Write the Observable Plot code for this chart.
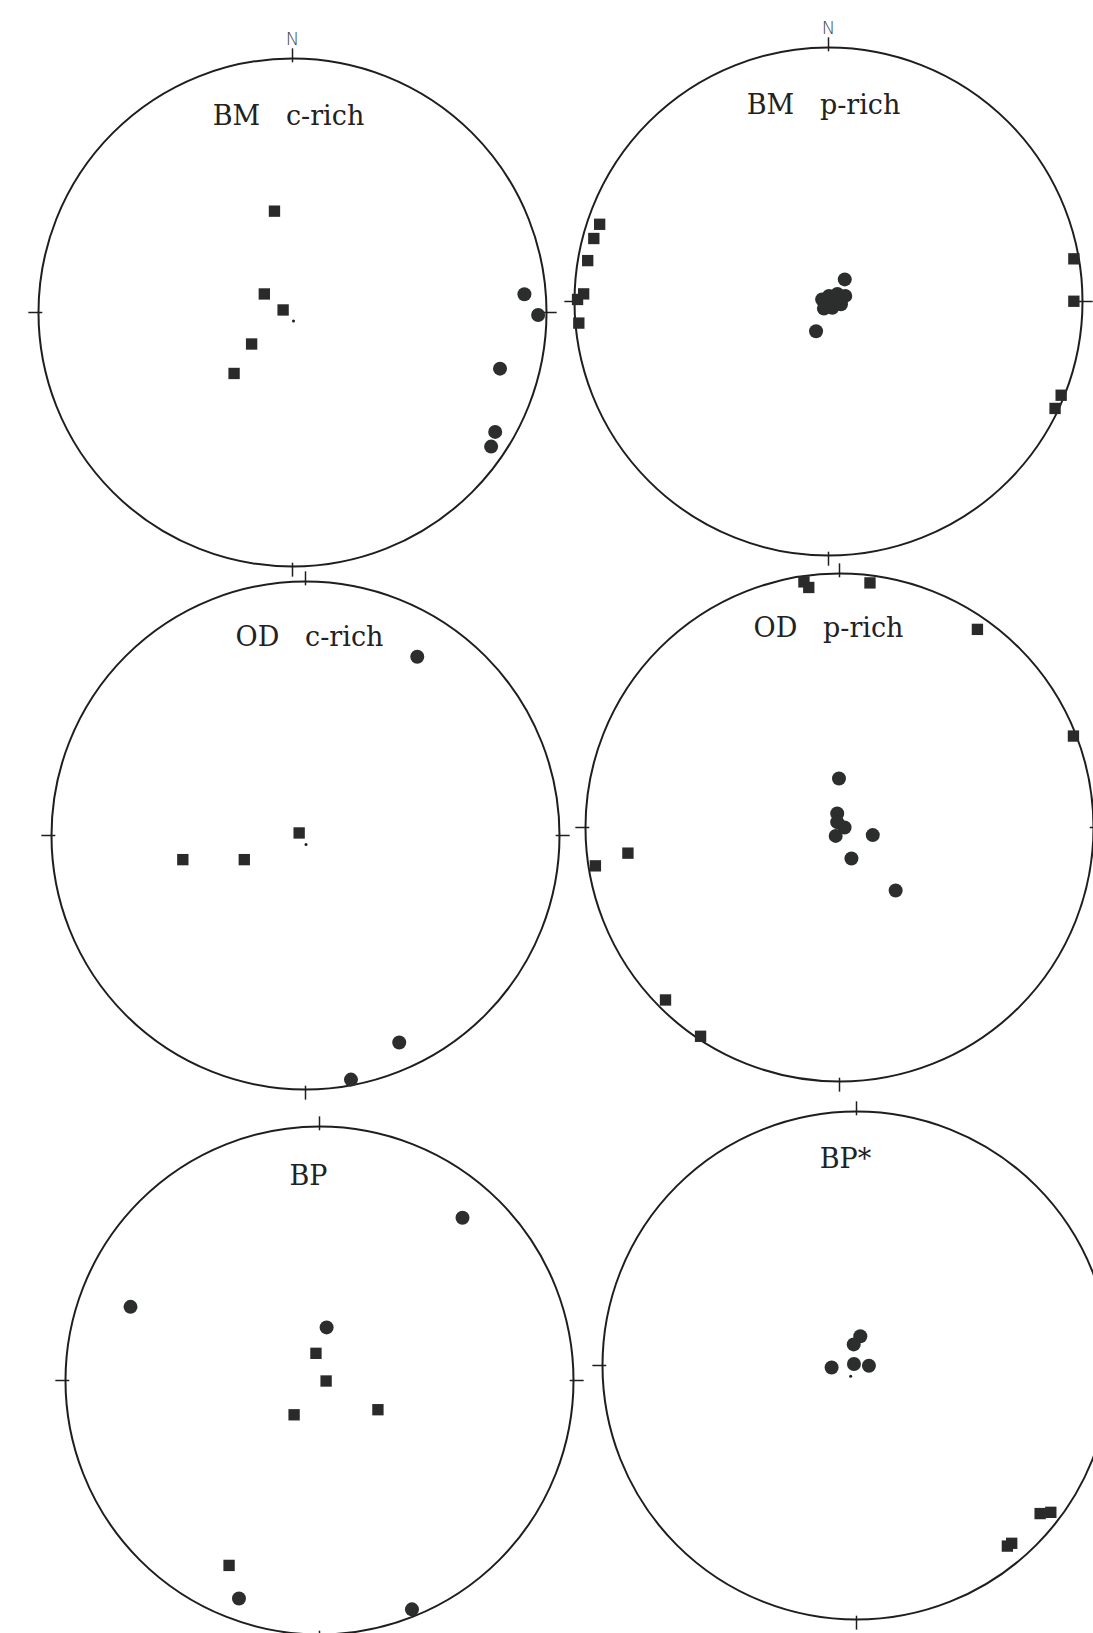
<!DOCTYPE html>
<html><head><meta charset="utf-8">
<script src="https://cdn.jsdelivr.net/npm/d3@7"></script>
<script src="https://cdn.jsdelivr.net/npm/@observablehq/plot@0.6"></script>
<style>
html,body{margin:0;padding:0;background:#fff;}
#page{position:relative;width:1093px;height:1633px;overflow:hidden;background:#fff;}
.panel{position:absolute;}
.panel svg{max-width:none !important;}
</style></head><body><div id="page"></div>
<script>
// Stereonet projected positions (unit circle coordinates)
const panelTitles = ["BM\u00a0\u00a0\u00a0c-rich", "BM\u00a0\u00a0\u00a0p-rich", "OD\u00a0\u00a0\u00a0c-rich", "OD\u00a0\u00a0\u00a0p-rich", "BP", "BP*"];

const bmCrichSquares = [[-0.071,0.399],[-0.111,0.073],[-0.037,0.010],[-0.161,-0.124],[-0.230,-0.240]];
const bmCrichCircles = [[0.913,0.072],[0.967,-0.010],[0.817,-0.221],[0.798,-0.470],[0.782,-0.528]];
const bmCrichCenter = [[0.004,-0.033]];

const bmPrichSquares = [[-0.901,0.304],[-0.924,0.248],[-0.948,0.161],[-0.988,0.008],[-0.964,0.030],[-0.983,-0.085],[0.966,0.168],[0.966,0.001],[0.916,-0.369],[0.892,-0.421]];
const bmPrichCircles = [[0.064,0.087],[0.066,0.022],[-0.025,0.008],[0.002,0.022],[0.029,0.015],[-0.018,-0.028],[0.015,-0.025],[0.049,-0.011],[0.035,0.030],[-0.049,-0.117]];
const bmPrichCenter = [];

const odCrichSquares = [[-0.025,0.010],[-0.241,-0.095],[-0.483,-0.095]];
const odCrichCircles = [[0.440,0.704],[0.369,-0.815],[0.179,-0.961]];
const odCrichCenter = [[0.002,-0.035]];

const odPrichSquares = [[-0.140,0.967],[-0.121,0.945],[0.120,0.963],[0.543,0.780],[0.921,0.360],[-0.833,-0.101],[-0.961,-0.151],[-0.685,-0.679],[-0.547,-0.822]];
const odPrichCircles = [[-0.002,0.193],[-0.009,0.055],[-0.009,0.021],[0.020,0.000],[-0.015,-0.033],[0.131,-0.030],[0.047,-0.122],[0.221,-0.248]];
const odPrichCenter = [];

const bpSquares = [[-0.014,0.107],[0.026,-0.002],[-0.100,-0.135],[0.230,-0.115],[-0.356,-0.728]];
const bpCircles = [[0.563,0.641],[-0.744,0.290],[0.028,0.209],[-0.317,-0.858],[0.364,-0.901]];
const bpCenter = [];

const bpStarSquares = [[0.723,-0.583],[0.765,-0.578],[0.611,-0.700],[0.594,-0.711]];
const bpStarCircles = [[0.015,0.115],[-0.011,0.083],[-0.098,-0.008],[-0.010,0.006],[0.049,-0.001]];
const bpStarCenter = [[-0.023,-0.042]];

const compass = [{dx:0,dy:1},{dx:1,dy:0},{dx:0,dy:-1},{dx:-1,dy:0}];
const outline = [{x:0,y:0}];

// layout (page placement)
const R = 254, M = 40;
const panels = [
  {title: panelTitles[0], cx: 292, cy: 311.5, tdy: 66, tdx: -4, north: true, sq: bmCrichSquares, ci: bmCrichCircles, ce: bmCrichCenter},
  {title: panelTitles[1], cx: 828, cy: 301, tdy: 66, tdx: -5, north: true, sq: bmPrichSquares, ci: bmPrichCircles, ce: bmPrichCenter},
  {title: panelTitles[2], cx: 304.5, cy: 835, tdy: 64, tdx: 4, north: false, sq: odCrichSquares, ci: odCrichCircles, ce: odCrichCenter},
  {title: panelTitles[3], cx: 839, cy: 827, tdy: 63, tdx: -11, north: false, sq: odPrichSquares, ci: odPrichCircles, ce: odPrichCenter},
  {title: panelTitles[4], cx: 319, cy: 1380, tdy: 58, tdx: -11, north: false, sq: bpSquares, ci: bpCircles, ce: bpCenter},
  {title: panelTitles[5], cx: 856, cy: 1365, tdy: 56, tdx: -11, north: false, sq: bpStarSquares, ci: bpStarCircles, ce: bpStarCenter}
];

const page = document.getElementById("page");
const ink = "#1e1e1e";
const size = 2 * (R + M);
for (const p of panels) {
  const marks = [
    Plot.dot(outline, {x: "x", y: "y", r: R, stroke: ink, strokeWidth: 2, fill: "none"}),
    Plot.link(compass, {x1: d => d.dx * 0.985, y1: d => d.dy * 0.985, x2: d => d.dx * 1.04, y2: d => d.dy * 1.04, stroke: ink, strokeWidth: 1.5}),
    Plot.text([p.title], {text: d => d, frameAnchor: "top", lineAnchor: "bottom", dy: p.tdy, dx: p.tdx, fontSize: 27, fontFamily: "DejaVu Serif", fill: "#222"}),
    Plot.dot(p.ce, {x: d => d[0], y: d => d[1], r: 1.5, fill: ink}),
    Plot.dot(p.sq, {x: d => d[0], y: d => d[1], symbol: "square", r: 6.4, fill: "#2a2a2a"}),
    Plot.dot(p.ci, {x: d => d[0], y: d => d[1], r: 7, fill: "#2c2e2d"})
  ];
  if (p.north) marks.push(Plot.text(["N"], {text: d => d, frameAnchor: "top", lineAnchor: "bottom", dy: -14, fontSize: 18, fontFamily: "DejaVu Sans", fontWeight: 300, fill: "#444"}));
  const chart = Plot.plot({
    width: size, height: size, margin: M,
    x: {domain: [-1, 1], axis: null},
    y: {domain: [-1, 1], axis: null},
    style: {background: "transparent", overflow: "visible", maxWidth: "none"},
    marks
  });
  const div = document.createElement("div");
  div.className = "panel";
  div.style.left = (p.cx - R - M) + "px";
  div.style.top = (p.cy - R - M) + "px";
  div.style.width = size + "px";
  div.style.height = size + "px";
  div.appendChild(chart);
  page.appendChild(div);
}
</script></body></html>
